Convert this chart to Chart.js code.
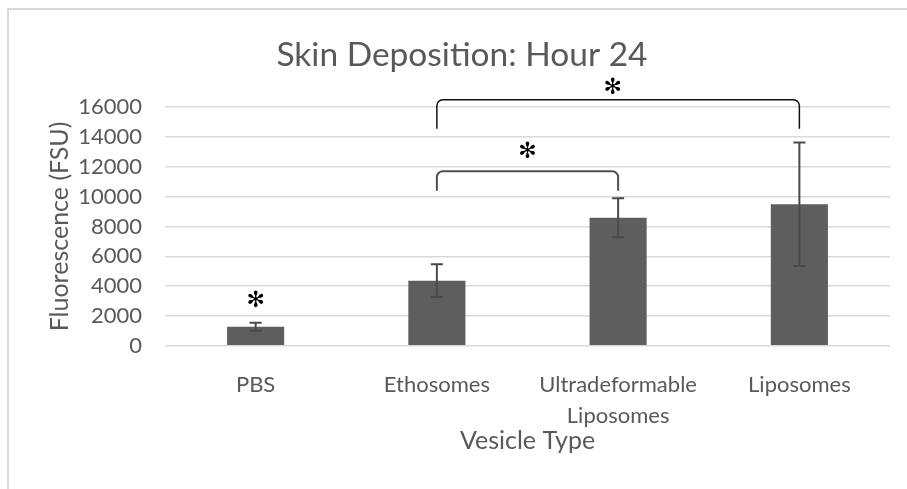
<!DOCTYPE html>
<html>
<head>
<meta charset="utf-8">
<script src="https://cdn.jsdelivr.net/npm/chart.js@4.4.1/dist/chart.umd.min.js"></script>
<style>
    html, body { margin: 0; padding: 0; background: #fff; }
    #wrap { position: relative; width: 907px; height: 489px; overflow: hidden; }
    #marco { position: absolute; left: 7px; top: 8px; width: 940px; height: 520px; border: 2px solid #d9d9d9; box-sizing: border-box; }
    #grafico { position: absolute; left: 0; top: 0; }
</style>
</head>
<body>
<div id="wrap">
    <div id="marco"></div>
    <canvas id="grafico" width="907" height="489"></canvas>
</div>
<script>
const titulo = "Skin Deposition: Hour 24";
const categorias = ["PBS", "Ethosomes", ["Ultradeformable", "Liposomes"], "Liposomes"];
const medias = [1275, 4360, 8590, 9490];
const errores = [270, 1100, 1310, 4150];

// corchetes de significancia: categoria inicial, final, altura superior, final de las patas
const corcheteDesde = [1, 1];
const corcheteHasta = [2, 3];
const corcheteArriba = [11700, 16500];
const corcheteAbajo = [10400, 14550];

// asteriscos: posicion en categorias y valor
const asteriscoX = [0, 1.5, 1.97];
const asteriscoY = [2950, 13000, 17300];

const gris = "#595959";
const fuente = "Lato";

const anotaciones = {
    id: "anotaciones",
    afterDatasetsDraw(chart) {
        const ctx = chart.ctx;
        const x = chart.scales.x;
        const y = chart.scales.y;

        // barras de error
        ctx.save();
        ctx.strokeStyle = "#4a4a4a";
        ctx.lineWidth = 2;
        medias.forEach((m, i) => {
            const px = x.getPixelForValue(i);
            const arriba = y.getPixelForValue(m + errores[i]);
            const abajo = y.getPixelForValue(m - errores[i]);
            ctx.beginPath();
            ctx.moveTo(px, arriba);
            ctx.lineTo(px, abajo);
            ctx.moveTo(px - 6, arriba);
            ctx.lineTo(px + 6, arriba);
            ctx.moveTo(px - 6, abajo);
            ctx.lineTo(px + 6, abajo);
            ctx.stroke();
        });

        // corchetes
        corcheteDesde.forEach((d, i) => {
            const x1 = x.getPixelForValue(d);
            const x2 = x.getPixelForValue(corcheteHasta[i]);
            const yt = y.getPixelForValue(corcheteArriba[i]);
            const yb = y.getPixelForValue(corcheteAbajo[i]);
            ctx.strokeStyle = i === 0 ? "#505050" : "#111";
            ctx.lineWidth = i === 0 ? 2 : 1.5;
            ctx.beginPath();
            ctx.moveTo(x1, yb);
            ctx.arcTo(x1, yt, x2, yt, 6);
            ctx.arcTo(x2, yt, x2, yb, 6);
            ctx.lineTo(x2, yb);
            ctx.stroke();
        });

        // asteriscos
        ctx.fillStyle = "#000";
        ctx.font = '22px "DejaVu Sans"';
        ctx.textAlign = "center";
        ctx.textBaseline = "middle";
        asteriscoX.forEach((a, i) => {
            ctx.fillText("\u273B", x.getPixelForValue(a), y.getPixelForValue(asteriscoY[i]));
        });
        ctx.restore();
    }
};

const ctx = document.getElementById("grafico").getContext("2d");

const chart = new Chart(ctx, {
    type: "bar",
    data: {
        labels: categorias,
        datasets: [{
            data: medias,
            backgroundColor: "#5e5e5e",
            barPercentage: 0.315,
            categoryPercentage: 1
        }]
    },
    options: {
        responsive: false,
        animation: false,
        layout: { padding: { left: 34, right: 17, top: 8, bottom: 0 } },
        plugins: {
            legend: { display: false },
            tooltip: { enabled: false },
            title: {
                display: true,
                text: titulo,
                color: gris,
                font: { family: fuente, size: 33.5, weight: "normal", lineHeight: 1.2 },
                padding: { top: 27, bottom: 32 }
            }
        },
        scales: {
            x: {
                grid: { display: false },
                border: { display: false },
                ticks: { color: gris, font: { family: fuente, size: 22, lineHeight: 1.4 }, padding: 16, maxRotation: 0 },
                title: {
                    display: true,
                    text: "Vesicle Type",
                    color: gris,
                    font: { family: fuente, size: 25, lineHeight: 1.2 },
                    padding: { top: 0, bottom: 33.5 }
                },
                afterFit(scale) { scale.height = 143.3; }
            },
            y: {
                min: 0,
                max: 16000,
                ticks: {
                    stepSize: 2000,
                    color: gris,
                    font: { family: fuente, size: 22 },
                    padding: 23,
                    callback: v => String(v)
                },
                grid: { color: "#d9d9d9", lineWidth: 1.5, drawTicks: false },
                border: { display: false },
                title: {
                    display: true,
                    text: "Fluorescence (FSU)",
                    color: gris,
                    font: { family: fuente, size: 25, lineHeight: 1.2 },
                    padding: { top: 11, bottom: 0 }
                },
                afterFit(scale) { scale.width = 131; }
            }
        }
    },
    plugins: [anotaciones]
});
</script>
</body>
</html>
